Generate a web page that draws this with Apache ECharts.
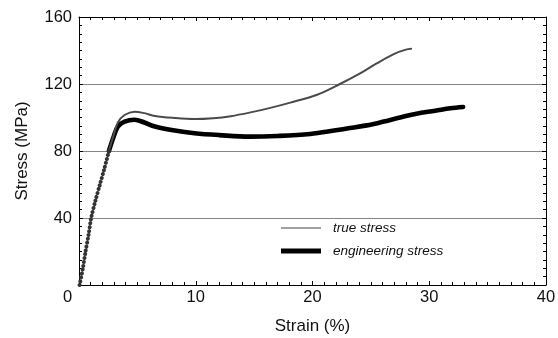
<!DOCTYPE html>
<html>
<head>
<meta charset="utf-8">
<script src="https://cdn.jsdelivr.net/npm/echarts@6/dist/echarts.min.js"></script>
<style>
  html, body { margin: 0; padding: 0; background: #fff; }
  #chart { width: 558px; height: 338px; }
</style>
</head>
<body>
<div id="chart"></div>
<script>
// Elastic loading segment shared by both curves (strain %, stress MPa)
const loadStrain = [0.05, 0.33, 0.56, 0.82, 1.04, 1.39, 1.79, 2.19, 2.56];
const loadStress = [0, 10, 20, 30, 40, 50, 60, 70, 80];

// Engineering stress after the loading segment
const engStrain = [2.56, 2.99, 3.33, 3.9, 4.76, 5.6, 6.5, 8.2, 9.9, 12, 14.6, 17, 19.8, 22, 23.2, 24.65, 26, 27.5, 28.9, 30.5, 31.8, 32.9];
const engStress = [80, 89, 94.5, 97.5, 98.7, 97, 94.6, 92.2, 90.6, 89.5, 88.6, 89, 90.2, 92.4, 93.7, 95.3, 97.4, 100, 102.3, 104, 105.5, 106.3];

// True stress after the loading segment
const trueStrain = [2.56, 2.9, 3.33, 3.9, 4.76, 5.6, 6.5, 8.2, 9.9, 11.5, 13, 14.6, 16.3, 18.1, 20.4, 22.35, 24, 25.5, 27, 28, 28.45];
const trueStress = [80, 88, 97, 101.5, 103.5, 102.6, 100.9, 99.7, 99.1, 99.6, 100.8, 102.9, 105.6, 108.9, 113.6, 120, 126, 132.3, 138, 140.5, 141];

const xTicks = { min: 0, max: 40, interval: 10 };
const yTicks = { min: 0, max: 160, interval: 40 };

const pairs = (xs, ys) => xs.map((x, i) => [x, ys[i]]);

const FONT = 'Liberation Sans, Arial, Helvetica, sans-serif';

const frameTick = (len) => ({ show: true, inside: true, length: len, lineStyle: { color: '#000', width: 1 } });

const chart = echarts.init(document.getElementById('chart'), null, { renderer: 'canvas' });

chart.setOption({
  animation: false,
  backgroundColor: '#fff',
  grid: { left: 79, right: 12, top: 17, bottom: 53, containLabel: false, outerBoundsMode: 'none' },
  legend: {
    left: 276,
    top: 216,
    orient: 'vertical',
    itemWidth: 40,
    itemHeight: 14,
    itemGap: 9,
    data: [
      { name: 'true stress', icon: 'path://M0,6.5L40,6.5L40,7.7L0,7.7Z', itemStyle: { color: '#444' } },
      { name: 'engineering stress', icon: 'path://M0,4.8L40,4.8L40,9.6L0,9.6Z', itemStyle: { color: '#000' } }
    ],
    textStyle: { fontFamily: FONT, fontSize: 13.5, fontStyle: 'italic', color: '#111', padding: [0, 0, 0, 7] },
    selectedMode: false
  },
  xAxis: [
    {
      type: 'value', position: 'bottom',
      min: xTicks.min, max: xTicks.max, interval: xTicks.interval,
      name: 'Strain (%)', nameLocation: 'middle', nameGap: 33,
      nameTextStyle: { fontFamily: FONT, fontSize: 17, color: '#111' },
      axisLine: { show: true, onZero: false, lineStyle: { color: '#000', width: 1 } },
      axisTick: frameTick(4),
      minorTick: { show: true, splitNumber: 10, length: 3, lineStyle: { color: '#000', width: 1 } },
      splitLine: { show: false },
      axisLabel: {
        fontFamily: FONT, fontSize: 16.5, color: '#111', margin: 4,
        formatter: (v) => v === 0 ? '{z|0}' : String(v),
        rich: { z: { fontFamily: FONT, fontSize: 16.5, color: '#111', padding: [0, 23, 0, 0] } }
      }
    },
    {
      type: 'value', position: 'top',
      min: xTicks.min, max: xTicks.max, interval: xTicks.interval,
      axisLine: { show: true, onZero: false, lineStyle: { color: '#000', width: 1 } },
      axisTick: frameTick(4),
      minorTick: { show: true, splitNumber: 10, length: 3, lineStyle: { color: '#000', width: 1 } },
      splitLine: { show: false },
      axisLabel: { show: false }
    }
  ],
  yAxis: [
    {
      type: 'value', position: 'left',
      min: yTicks.min, max: yTicks.max, interval: yTicks.interval,
      name: 'Stress (MPa)', nameLocation: 'middle', nameGap: 48,
      nameTextStyle: { fontFamily: FONT, fontSize: 17, color: '#111' },
      axisLine: { show: true, onZero: false, lineStyle: { color: '#000', width: 1 } },
      axisTick: frameTick(4),
      minorTick: { show: true, splitNumber: 8, length: 3, lineStyle: { color: '#000', width: 1 } },
      splitLine: {
        show: true,
        lineStyle: { color: '#858585', width: 1.2 },
        showMinLine: false, showMaxLine: false
      },
      axisLabel: {
        fontFamily: FONT, fontSize: 16.5, color: '#111', margin: 7,
        formatter: (v) => v === 0 ? '' : String(v)
      }
    },
    {
      type: 'value', position: 'right',
      min: yTicks.min, max: yTicks.max, interval: yTicks.interval,
      axisLine: { show: true, onZero: false, lineStyle: { color: '#000', width: 1 } },
      axisTick: frameTick(4),
      minorTick: { show: true, splitNumber: 8, length: 3, lineStyle: { color: '#000', width: 1 } },
      splitLine: { show: false },
      axisLabel: { show: false }
    }
  ],
  series: [
    {
      name: 'engineering stress',
      type: 'line',
      data: pairs(engStrain, engStress),
      smooth: 0.35,
      showSymbol: false,
      symbol: 'none',
      lineStyle: { color: '#000', width: 4.6, cap: 'round', join: 'round' },
      itemStyle: { color: '#000' },
      z: 3
    },
    {
      name: 'true stress',
      type: 'line',
      data: pairs(trueStrain, trueStress),
      smooth: 0.35,
      showSymbol: false,
      symbol: 'none',
      lineStyle: { color: '#4a4a4a', width: 2, cap: 'round', join: 'round' },
      itemStyle: { color: '#444' },
      z: 4
    },
    {
      name: 'loading',
      type: 'line',
      data: pairs(loadStrain, loadStress),
      smooth: 0.3,
      showSymbol: false,
      symbol: 'none',
      lineStyle: { color: '#333', width: 4, type: [0.01, 3.9], cap: 'round' },
      z: 5
    }
  ]
});
</script>
</body>
</html>
